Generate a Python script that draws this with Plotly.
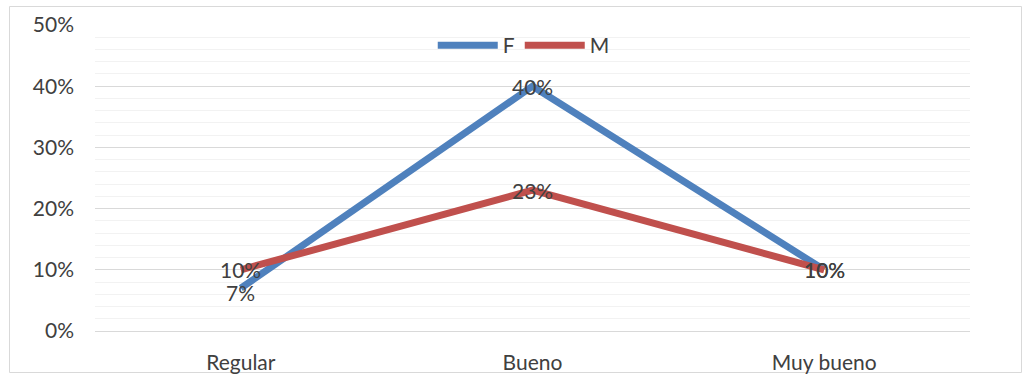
import plotly.graph_objects as go

categories = ["Regular", "Bueno", "Muy bueno"]
f_values = [0.07, 0.40, 0.10]
m_values = [0.10, 0.23, 0.10]
f_labels = ["7%", "40%", "10%"]
m_labels = ["10%", "23%", "10%"]

W, H = 1029, 374
L, R, T, B = 95, 59, 25, 43
BLUE = "#4F81BD"
RED = "#C0504D"
TEXT = "#404040"
FONT = "Lato"
FS = 21

fig = go.Figure()

fig.add_trace(go.Scatter(x=categories, y=f_values, name="F", mode="lines",
                         line=dict(color=BLUE, width=7)))
fig.add_trace(go.Scatter(x=categories, y=m_values, name="M", mode="lines",
                         line=dict(color=RED, width=7)))

# data labels, centred on the points and drawn over both lines
label_shift_f = [-4, 0, 0]
for cat, val, lab, dy in zip(categories, f_values, f_labels, label_shift_f):
    fig.add_annotation(x=cat, y=val, text=lab, showarrow=False, yshift=dy,
                       font=dict(family=FONT, size=FS, color=TEXT))
for cat, val, lab in zip(categories, m_values, m_labels):
    fig.add_annotation(x=cat, y=val, text=lab, showarrow=False,
                       font=dict(family=FONT, size=FS, color=TEXT))

pw = W - L - R
ph = H - T - B
def px_x(p):
    return (p - L) / pw
def px_y(p):
    return (H - B - p) / ph

fig.add_shape(type="rect", xref="paper", yref="paper",
              x0=px_x(9.5), x1=px_x(1021.5), y0=px_y(372.5), y1=px_y(6.5),
              line=dict(color="#D9D9D9", width=1), fillcolor="rgba(0,0,0,0)",
              layer="below")

fig.update_layout(
    width=W, height=H,
    margin=dict(l=L, r=R, t=T, b=B, autoexpand=False),
    paper_bgcolor="white", plot_bgcolor="white",
    font=dict(family=FONT, size=FS, color=TEXT),
    legend=dict(orientation="h", x=0.49, xanchor="center", y=1.0, yanchor="top",
                font=dict(family=FONT, size=FS, color=TEXT),
                bgcolor="rgba(0,0,0,0)", itemwidth=60, tracegroupgap=0),
    xaxis=dict(type="category", range=[-0.5, 2.5], showgrid=False,
               showline=False, zeroline=False, ticks="", automargin=False,
               ticklabelstandoff=17,
               tickfont=dict(family=FONT, size=FS, color=TEXT)),
    yaxis=dict(range=[0, 0.5], dtick=0.1, tickformat=".0%", automargin=False,
               showgrid=True, gridcolor="#D9D9D9", gridwidth=1,
               zeroline=True, zerolinecolor="#D9D9D9", zerolinewidth=1,
               showline=False, ticks="",
               ticklabelstandoff=20,
               tickfont=dict(family=FONT, size=FS, color=TEXT),
               minor=dict(dtick=0.02, showgrid=True, gridcolor="#F2F2F2", gridwidth=1)),
    showlegend=True,
)

fig.write_html("out.html")
